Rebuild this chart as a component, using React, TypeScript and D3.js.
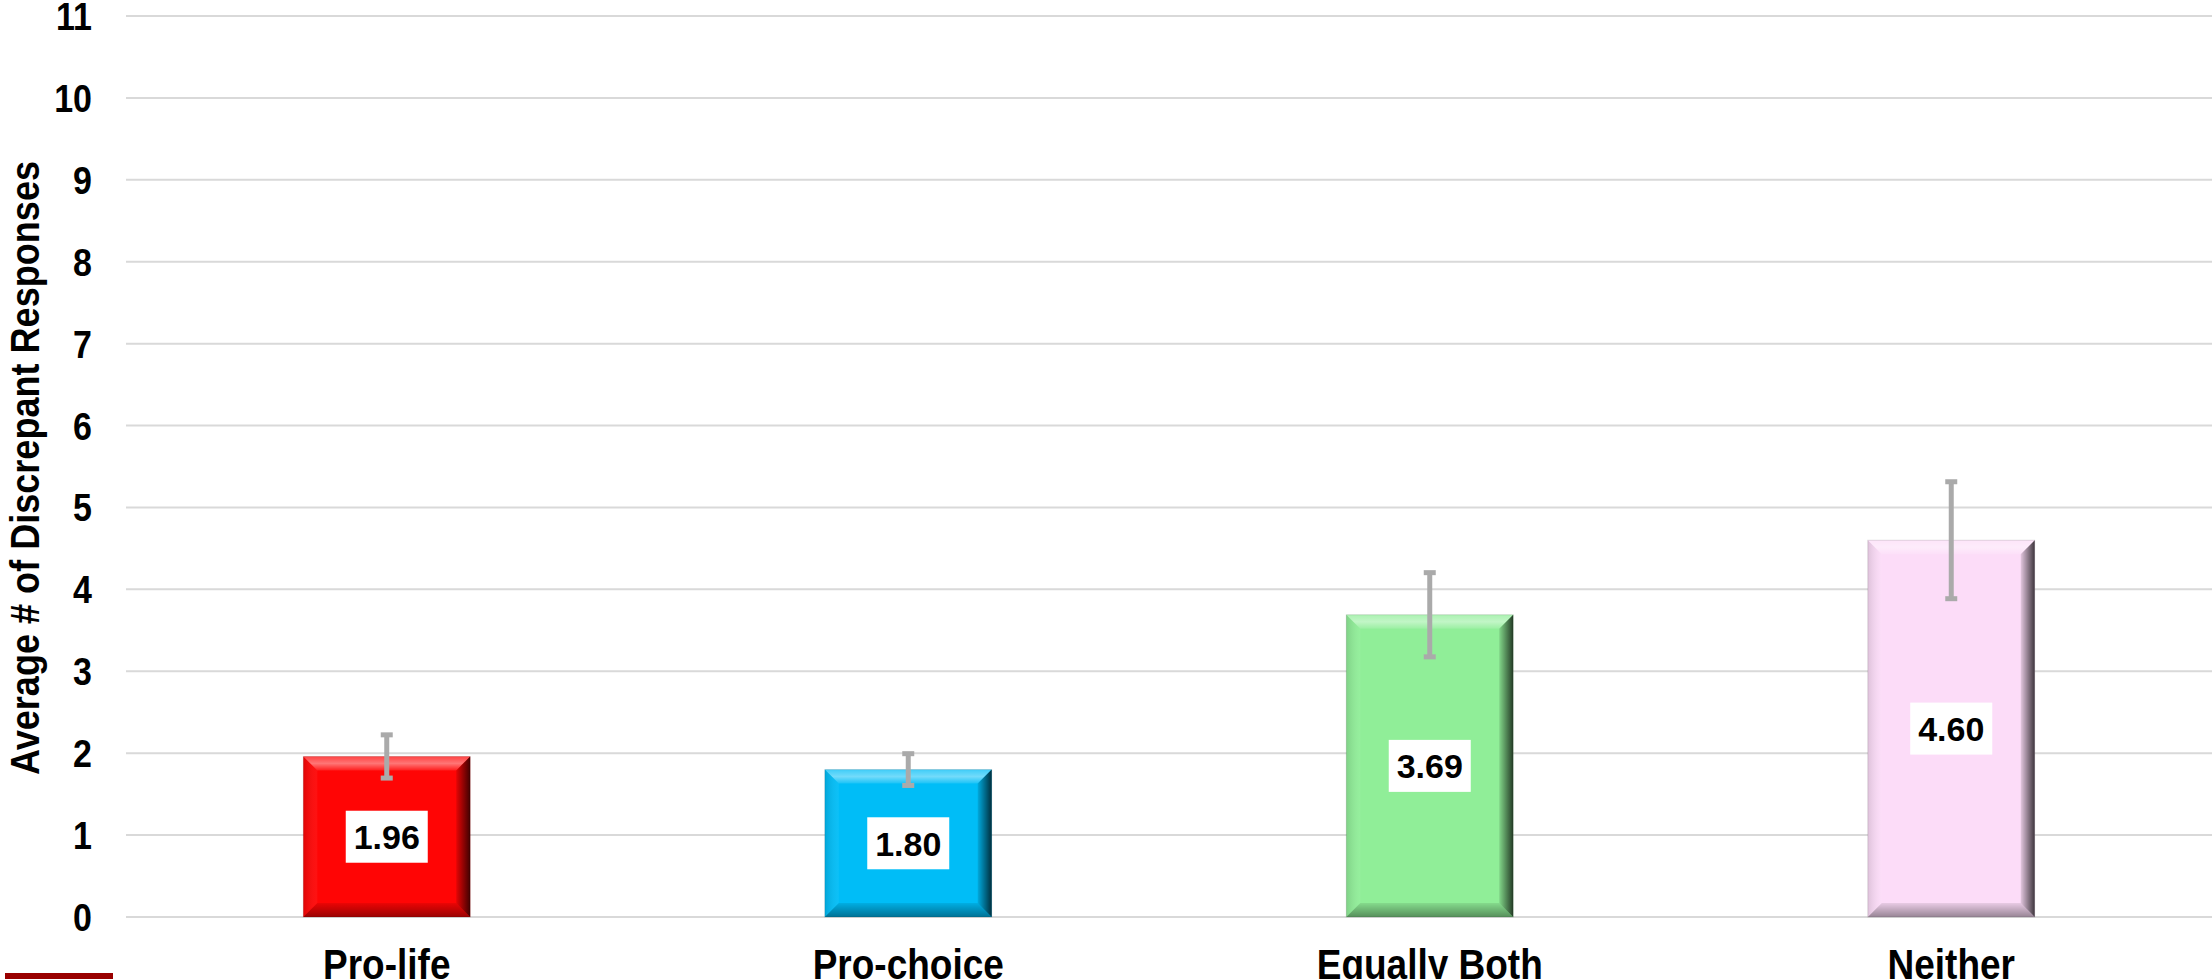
import React from 'react';
import * as d3 from 'd3';

const categories = ['Pro-life', 'Pro-choice', 'Equally Both', 'Neither'];
const values = [1.96, 1.8, 3.69, 4.6];
const errors = [0.27, 0.2, 0.52, 0.72];
const colors = ['#ff0505', '#00bdf7', '#90ee98', '#fcdcf8'];
const yTicks = [0, 1, 2, 3, 4, 5, 6, 7, 8, 9, 10, 11];
const yTitle = 'Average # of Discrepant Responses';

const W = 2212;
const H = 979;
const STRETCH = 1.15; // text in the source is slightly stretched vertically

export default function App() {
  const x = d3.scaleBand<string>()
    .domain(categories)
    .range([126, W])
    .paddingInner(0.68)
    .paddingOuter(0.34);

  const y = d3.scaleLinear().domain([0, 11]).range([917, 16]);

  const bev = 14; // bevel size

  return (
    <svg width={W} height={H} style={{ position: 'absolute', left: 0, top: 0, background: '#fff' }}
      fontFamily="'Liberation Sans', Arial, sans-serif">
      <defs>
        <linearGradient id="topBev" x1="0" y1="0" x2="0" y2="1">
          <stop offset="0" stopColor="#fff" stopOpacity={0.25} />
          <stop offset="0.5" stopColor="#fff" stopOpacity={0.45} />
          <stop offset="1" stopColor="#fff" stopOpacity={0.1} />
        </linearGradient>
        <linearGradient id="rightBev" x1="0" y1="0" x2="1" y2="0">
          <stop offset="0" stopColor="#000" stopOpacity={0.1} />
          <stop offset="1" stopColor="#000" stopOpacity={0.75} />
        </linearGradient>
        <linearGradient id="bottomBev" x1="0" y1="0" x2="0" y2="1">
          <stop offset="0" stopColor="#000" stopOpacity={0.08} />
          <stop offset="1" stopColor="#000" stopOpacity={0.4} />
        </linearGradient>
        <linearGradient id="leftBev" x1="0" y1="0" x2="1" y2="0">
          <stop offset="0" stopColor="#000" stopOpacity={0.12} />
          <stop offset="1" stopColor="#fff" stopOpacity={0.05} />
        </linearGradient>
      </defs>

      {/* gridlines */}
      {yTicks.map(t => (
        <line key={'g' + t} x1={126} x2={W} y1={y(t)} y2={y(t)} stroke="#d9d9d9" strokeWidth={2} />
      ))}

      {/* y tick labels */}
      {yTicks.map(t => (
        <text key={'t' + t} transform={`translate(92, ${y(t)}) scale(1, ${STRETCH})`}
          y={12.2} textAnchor="end" fontSize={34} fontWeight="bold" fill="#000">
          {t}
        </text>
      ))}

      {/* y axis title */}
      <text transform={`translate(39, 468) rotate(-90)`} textAnchor="middle" fontSize={40}
        fontWeight="bold" fill="#000" textLength={614} lengthAdjust="spacingAndGlyphs">
        {yTitle}
      </text>

      {/* bars */}
      {categories.map((c, i) => {
        const x0 = x(c)!;
        const bw = x.bandwidth();
        const x1 = x0 + bw;
        const yt = y(values[i]);
        const yb = y(0);
        const cx = x0 + bw / 2;
        return (
          <g key={c}>
            <rect x={x0} y={yt} width={bw} height={yb - yt} fill={colors[i]} />
            <polygon points={`${x0},${yt} ${x1},${yt} ${x1 - bev},${yt + bev} ${x0 + bev},${yt + bev}`} fill="url(#topBev)" />
            <polygon points={`${x0},${yt} ${x0 + bev},${yt + bev} ${x0 + bev},${yb - bev} ${x0},${yb}`} fill="url(#leftBev)" />
            <polygon points={`${x0},${yb} ${x0 + bev},${yb - bev} ${x1 - bev},${yb - bev} ${x1},${yb}`} fill="url(#bottomBev)" />
            <polygon points={`${x1},${yt} ${x1},${yb} ${x1 - bev},${yb - bev} ${x1 - bev},${yt + bev}`} fill="url(#rightBev)" />
            <rect x={x0} y={yt} width={bw} height={yb - yt} fill="none" stroke="#000" strokeOpacity={0.12} strokeWidth={1} />

            {/* error bar */}
            <rect x={cx - 2.5} y={y(values[i] + errors[i])} width={5}
              height={y(values[i] - errors[i]) - y(values[i] + errors[i])} fill="#aaaaaa" />
            <rect x={cx - 6} y={y(values[i] + errors[i]) - 2} width={12} height={5} fill="#aaaaaa" />
            <rect x={cx - 6} y={y(values[i] - errors[i]) - 3} width={12} height={5} fill="#aaaaaa" />

            {/* value label */}
            <rect x={cx - 41} y={y(values[i] / 2) - 26} width={82} height={52} fill="#fff" />
            <text x={cx} y={y(values[i] / 2) + 12.5} textAnchor="middle" fontSize={34}
              fontWeight="bold" fill="#000">
              {values[i].toFixed(2)}
            </text>

            {/* category label */}
            <text transform={`translate(${cx}, 978.5) scale(1, ${STRETCH})`} textAnchor="middle"
              fontSize={37} fontWeight="bold" fill="#000">
              {c}
            </text>
          </g>
        );
      })}

      {/* decorative slide bar */}
      <rect x={5} y={973} width={108} height={6} fill="#990000" />
    </svg>
  );
}
